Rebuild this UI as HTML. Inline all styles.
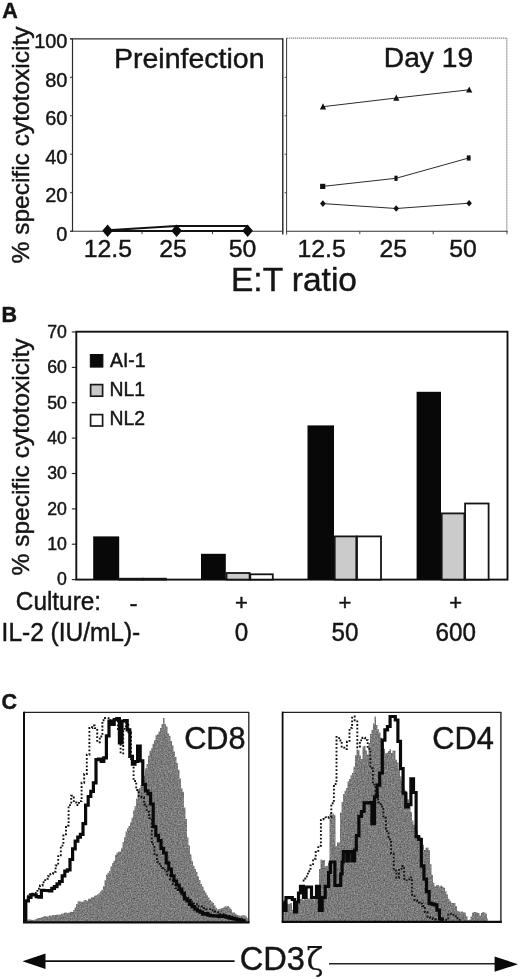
<!DOCTYPE html>
<html lang="en"><head><meta charset="utf-8"><title>Figure</title>
<style>
html,body{margin:0;padding:0;background:#fff;}
body{width:520px;height:979px;overflow:hidden;}
svg{display:block;}
text{font-family:"Liberation Sans",Arial,Helvetica,sans-serif;fill:#151515;stroke:#151515;stroke-width:0.45px;}
.b{font-weight:bold;}
</style></head><body>
<svg width="520" height="979" viewBox="0 0 520 979">
<defs><filter id="grain" x="0" y="0" width="100%" height="100%" color-interpolation-filters="sRGB"><feTurbulence type="fractalNoise" baseFrequency="0.7" numOctaves="2" seed="4" result="t"/><feColorMatrix in="t" type="matrix" values="0.45 0 0 0 0.255  0.45 0 0 0 0.255  0.45 0 0 0 0.255  0 0 0 0 1" result="g"/><feComposite in="g" in2="SourceGraphic" operator="in"/></filter></defs>
<rect x="0" y="0" width="520" height="979" fill="#ffffff"/>

<g id="panelA">
<text class="b" x="2.3" y="18.2" font-size="21.5">A</text>
<text transform="translate(28.6,145) rotate(-90)" text-anchor="middle" font-size="24.5">% specific cytotoxicity</text>
<text transform="translate(67.4,240.8) scale(0.95,1)" text-anchor="end" font-size="21">0</text>
<line x1="70" y1="231.2" x2="72.5" y2="231.2" stroke="#333" stroke-width="1"/>
<text transform="translate(67.4,202.3) scale(0.95,1)" text-anchor="end" font-size="21">20</text>
<line x1="70" y1="192.7" x2="72.5" y2="192.7" stroke="#333" stroke-width="1"/>
<text transform="translate(67.4,163.8) scale(0.95,1)" text-anchor="end" font-size="21">40</text>
<line x1="70" y1="154.2" x2="72.5" y2="154.2" stroke="#333" stroke-width="1"/>
<text transform="translate(67.4,125.4) scale(0.95,1)" text-anchor="end" font-size="21">60</text>
<line x1="70" y1="115.8" x2="72.5" y2="115.8" stroke="#333" stroke-width="1"/>
<text transform="translate(67.4,86.9) scale(0.95,1)" text-anchor="end" font-size="21">80</text>
<line x1="70" y1="77.3" x2="72.5" y2="77.3" stroke="#333" stroke-width="1"/>
<text transform="translate(67.4,48.4) scale(0.95,1)" text-anchor="end" font-size="21">100</text>
<line x1="70" y1="38.8" x2="72.5" y2="38.8" stroke="#333" stroke-width="1"/>
<path d="M72.5 38.8 V231.7" stroke="#2a2a2a" stroke-width="1.2" fill="none"/>
<path d="M70 38.8 H283" stroke="#2a2a2a" stroke-width="1.3" fill="none"/>
<path d="M282.8 38.3 V234.5" stroke="#222" stroke-width="1.4" fill="none"/>
<path d="M70 231.2 H282" stroke="#333" stroke-width="1.1" fill="none"/>
<line x1="142" y1="231.2" x2="142" y2="234.2" stroke="#444" stroke-width="1"/>
<line x1="212.5" y1="231.2" x2="212.5" y2="234.2" stroke="#444" stroke-width="1"/>
<polyline points="107.5,230.3 176.5,226 247.5,226" fill="none" stroke="#111" stroke-width="1.9"/>
<polyline points="107.5,230.9 176.5,230.9 247.5,230.9" fill="none" stroke="#111" stroke-width="2"/>
<path d="M102.3 230.7 L107.6 224.5 L112.89999999999999 230.7 L107.6 237 Z" fill="#0c0c0c"/>
<path d="M171.29999999999998 230.7 L176.6 224.5 L181.9 230.7 L176.6 237 Z" fill="#0c0c0c"/>
<path d="M242.29999999999998 230.7 L247.6 224.5 L252.9 230.7 L247.6 237 Z" fill="#0c0c0c"/>
<text x="114" y="68.2" font-size="28.5">Preinfection</text>
<path d="M286.6 38 V234.5" stroke="#3a3a3a" stroke-width="1.0" fill="none"/>
<path d="M287 38.2 H507" stroke="#8c8c8c" stroke-width="1.2" stroke-dasharray="1.3 0.7" fill="none"/>
<path d="M506.8 38.2 V231.2" stroke="#808080" stroke-width="1.2" stroke-dasharray="1.3 0.7" fill="none"/>
<path d="M286 231.2 H507.5" stroke="#333" stroke-width="1.1" fill="none"/>
<line x1="359.8" y1="231.2" x2="359.8" y2="234.2" stroke="#444" stroke-width="1"/>
<line x1="433.2" y1="231.2" x2="433.2" y2="234.2" stroke="#444" stroke-width="1"/>
<line x1="507" y1="231.2" x2="507" y2="234.2" stroke="#444" stroke-width="1"/>
<line x1="284.6" y1="192.7" x2="286.6" y2="192.7" stroke="#444" stroke-width="1"/>
<line x1="284.6" y1="154.2" x2="286.6" y2="154.2" stroke="#444" stroke-width="1"/>
<line x1="284.6" y1="115.8" x2="286.6" y2="115.8" stroke="#444" stroke-width="1"/>
<line x1="284.6" y1="77.3" x2="286.6" y2="77.3" stroke="#444" stroke-width="1"/>
<polyline points="323.0,106.7 396.3,98.0 469.2,89.8" fill="none" stroke="#2c2c2c" stroke-width="1"/>
<polyline points="322.7,186.4 396.0,178.3 468.7,158.0" fill="none" stroke="#2c2c2c" stroke-width="1"/>
<polyline points="322.9,203.6 396.2,208.5 469.1,203.2" fill="none" stroke="#2c2c2c" stroke-width="1"/>
<path d="M319.9 109.4 L323 103.3 L326.1 109.4 Z" fill="#111"/>
<path d="M393.2 100.7 L396.3 94.6 L399.4 100.7 Z" fill="#111"/>
<path d="M466.1 92.5 L469.2 86.4 L472.3 92.5 Z" fill="#111"/>
<rect x="320.1" y="183.8" width="5.2" height="5.2" fill="#111"/>
<rect x="394.4" y="175.7" width="3.2" height="5.2" fill="#111"/>
<rect x="466.8" y="155.4" width="3.8" height="5.2" fill="#111"/>
<path d="M320.1 203.6 L322.9 200.3 L325.7 203.6 L322.9 206.9 Z" fill="#111"/>
<path d="M393.4 208.5 L396.2 205.2 L399.0 208.5 L396.2 211.8 Z" fill="#111"/>
<path d="M466.3 203.2 L469.1 199.9 L471.9 203.2 L469.1 206.5 Z" fill="#111"/>
<text x="383.8" y="67.2" font-size="28.2">Day 19</text>
<text x="107.8" y="256.6" text-anchor="middle" font-size="24.8">12.5</text>
<text x="173.1" y="256.6" text-anchor="middle" font-size="24.8">25</text>
<text x="242.6" y="256.6" text-anchor="middle" font-size="24.8">50</text>
<text x="321.6" y="256.6" text-anchor="middle" font-size="24.8">12.5</text>
<text x="393.3" y="256.6" text-anchor="middle" font-size="24.8">25</text>
<text x="463.1" y="256.6" text-anchor="middle" font-size="24.8">50</text>
<text x="231" y="291" font-size="33.5">E:T ratio</text>
</g>
<g id="panelB">
<text class="b" x="1.5" y="321.5" font-size="21.5">B</text>
<text transform="translate(29.1,457) rotate(-90)" text-anchor="middle" font-size="24.5">% specific cytotoxicity</text>
<text x="66.9" y="585.4" text-anchor="end" font-size="17.7">0</text>
<line x1="71.8" y1="579.6" x2="76" y2="579.6" stroke="#222" stroke-width="1.1"/>
<text x="66.9" y="550.0" text-anchor="end" font-size="17.7">10</text>
<line x1="71.8" y1="544.2" x2="76" y2="544.2" stroke="#222" stroke-width="1.1"/>
<text x="66.9" y="514.7" text-anchor="end" font-size="17.7">20</text>
<line x1="71.8" y1="508.9" x2="76" y2="508.9" stroke="#222" stroke-width="1.1"/>
<text x="66.9" y="479.3" text-anchor="end" font-size="17.7">30</text>
<line x1="71.8" y1="473.5" x2="76" y2="473.5" stroke="#222" stroke-width="1.1"/>
<text x="66.9" y="443.9" text-anchor="end" font-size="17.7">40</text>
<line x1="71.8" y1="438.1" x2="76" y2="438.1" stroke="#222" stroke-width="1.1"/>
<text x="66.9" y="408.5" text-anchor="end" font-size="17.7">50</text>
<line x1="71.8" y1="402.7" x2="76" y2="402.7" stroke="#222" stroke-width="1.1"/>
<text x="66.9" y="373.2" text-anchor="end" font-size="17.7">60</text>
<line x1="71.8" y1="367.4" x2="76" y2="367.4" stroke="#222" stroke-width="1.1"/>
<text x="66.9" y="337.8" text-anchor="end" font-size="17.7">70</text>
<line x1="71.8" y1="332.0" x2="76" y2="332.0" stroke="#222" stroke-width="1.1"/>
<rect x="76.3" y="331.7" width="431.2" height="247.9" fill="none" stroke="#111" stroke-width="1.9"/>
<rect x="90.3" y="354.5" width="12.6" height="12.6" fill="#0a0a0a" stroke="#0a0a0a" stroke-width="1"/>
<rect x="90.6" y="384.6" width="12" height="11.6" fill="#c9c9c9" stroke="#1a1a1a" stroke-width="1.7"/>
<rect x="90.6" y="414.6" width="12" height="11.4" fill="#fff" stroke="#1a1a1a" stroke-width="1.7"/>
<text x="110" y="366.9" font-size="19.4">AI-1</text>
<text x="109.5" y="395.8" font-size="19.4">NL1</text>
<text x="109.5" y="425.3" font-size="19.4">NL2</text>
<rect x="93.2" y="536.4" width="26.0" height="43.2" fill="#080808"/>
<rect x="119.5" y="578.7" width="23.0" height="0.9" fill="#cbcbcb" stroke="#151515" stroke-width="1.8"/>
<rect x="143.2" y="578.7" width="22.8" height="0.9" fill="#ffffff" stroke="#151515" stroke-width="1.8"/>
<rect x="201" y="553.8" width="24.8" height="25.8" fill="#080808"/>
<rect x="226.5" y="573.0" width="23.1" height="6.6" fill="#cbcbcb" stroke="#151515" stroke-width="1.8"/>
<rect x="250.3" y="574.3" width="22.5" height="5.3" fill="#ffffff" stroke="#151515" stroke-width="1.8"/>
<rect x="307.5" y="425.4" width="26.5" height="154.2" fill="#080808"/>
<rect x="334.7" y="536.4" width="21.6" height="43.2" fill="#cbcbcb" stroke="#151515" stroke-width="1.8"/>
<rect x="357.0" y="536.4" width="24.0" height="43.2" fill="#ffffff" stroke="#151515" stroke-width="1.8"/>
<rect x="416.6" y="391.8" width="24.4" height="187.8" fill="#080808"/>
<rect x="441.7" y="513.4" width="22.7" height="66.2" fill="#cbcbcb" stroke="#151515" stroke-width="1.8"/>
<rect x="465.1" y="503.5" width="23.5" height="76.1" fill="#ffffff" stroke="#151515" stroke-width="1.8"/>
<text transform="translate(15.8,610) scale(0.975,1)" font-size="25">Culture:</text>
<text transform="translate(1.6,641.1) scale(0.968,1)" font-size="25.3">IL-2 (IU/mL)-</text>
<text x="133.6" y="610.5" font-size="24.5" text-anchor="middle">-</text>
<text x="241.5" y="610.3" font-size="22" text-anchor="middle">+</text>
<text transform="translate(241.5,640.6) scale(0.97,1)" font-size="25" text-anchor="middle">0</text>
<text x="345" y="610.3" font-size="22" text-anchor="middle">+</text>
<text transform="translate(345,640.6) scale(0.97,1)" font-size="25" text-anchor="middle">50</text>
<text x="455.8" y="610.3" font-size="22" text-anchor="middle">+</text>
<text transform="translate(455.8,640.6) scale(0.97,1)" font-size="25" text-anchor="middle">600</text>
</g>
<g id="panelC">
<text class="b" x="1.5" y="709" font-size="21.5">C</text>
<polygon points="25.0,922.0 28.0,919.4 29.5,919.4 29.5,919.4 31.0,919.4 31.0,919.8 32.5,919.8 32.5,920.1 34.0,920.1 34.0,919.7 35.5,919.7 35.5,919.1 37.0,919.1 37.0,918.2 38.5,918.2 38.5,917.9 40.0,917.9 40.0,917.7 41.5,917.7 41.5,917.1 43.0,917.1 43.0,916.6 44.5,916.6 44.5,915.9 46.0,915.9 46.0,916.5 47.5,916.5 47.5,916.3 49.0,916.3 49.0,915.6 50.5,915.6 50.5,915.8 52.0,915.8 52.0,915.1 53.5,915.1 53.5,915.1 55.0,915.1 55.0,915.0 56.5,915.0 56.5,914.5 58.0,914.5 58.0,914.8 59.5,914.8 59.5,914.5 61.0,914.5 61.0,913.7 62.5,913.7 62.5,913.4 64.0,913.4 64.0,912.8 65.5,912.8 65.5,912.5 67.0,912.5 67.0,913.0 68.5,913.0 68.5,912.6 70.0,912.6 70.0,911.8 71.5,911.8 71.5,912.1 73.0,912.1 73.0,910.2 74.5,910.2 74.5,907.5 76.0,907.5 76.0,904.0 77.5,904.0 77.5,901.6 79.0,901.6 79.0,901.3 80.5,901.3 80.5,901.8 82.0,901.8 82.0,901.7 83.5,901.7 83.5,900.5 85.0,900.5 85.0,900.1 86.5,900.1 86.5,900.8 88.0,900.8 88.0,898.8 89.5,898.8 89.5,898.5 91.0,898.5 91.0,897.2 92.5,897.2 92.5,896.9 94.0,896.9 94.0,895.7 95.5,895.7 95.5,895.2 97.0,895.2 97.0,894.6 98.5,894.6 98.5,893.3 100.0,893.3 100.0,891.6 101.5,891.6 101.5,889.7 103.0,889.7 103.0,886.3 104.5,886.3 104.5,880.3 106.0,880.3 106.0,874.7 107.5,874.7 107.5,872.8 109.0,872.8 109.0,870.9 110.5,870.9 110.5,866.5 112.0,866.5 112.0,863.2 113.5,863.2 113.5,860.8 115.0,860.8 115.0,855.1 116.5,855.1 116.5,852.5 118.0,852.5 118.0,851.8 119.5,851.8 119.5,851.6 121.0,851.6 121.0,848.3 122.5,848.3 122.5,841.9 124.0,841.9 124.0,837.2 125.5,837.2 125.5,831.4 127.0,831.4 127.0,828.3 128.5,828.3 128.5,826.0 130.0,826.0 130.0,822.6 131.5,822.6 131.5,817.8 133.0,817.8 133.0,810.5 134.5,810.5 134.5,806.3 136.0,806.3 136.0,798.8 137.5,798.8 137.5,789.0 139.0,789.0 139.0,788.1 140.5,788.1 140.5,785.0 142.0,785.0 142.0,783.4 143.5,783.4 143.5,775.7 145.0,775.7 145.0,768.5 146.5,768.5 146.5,764.1 148.0,764.1 148.0,755.7 149.5,755.7 149.5,750.7 151.0,750.7 151.0,748.2 152.5,748.2 152.5,743.7 154.0,743.7 154.0,740.2 155.5,740.2 155.5,735.2 157.0,735.2 157.0,734.3 158.5,734.3 158.5,731.5 160.0,731.5 160.0,728.1 161.5,728.1 161.5,723.9 163.0,723.9 163.0,717.9 164.5,717.9 164.5,724.2 166.0,724.2 166.0,726.6 167.5,726.6 167.5,733.5 169.0,733.5 169.0,735.7 170.5,735.7 170.5,741.1 172.0,741.1 172.0,745.5 173.5,745.5 173.5,751.6 175.0,751.6 175.0,756.9 176.5,756.9 176.5,763.1 178.0,763.1 178.0,769.7 179.5,769.7 179.5,778.4 181.0,778.4 181.0,788.2 182.5,788.2 182.5,791.7 184.0,791.7 184.0,807.5 185.5,807.5 185.5,819.0 187.0,819.0 187.0,837.6 188.5,837.6 188.5,845.4 190.0,845.4 190.0,854.6 191.5,854.6 191.5,860.7 193.0,860.7 193.0,865.8 194.5,865.8 194.5,869.1 196.0,869.1 196.0,872.1 197.5,872.1 197.5,876.6 199.0,876.6 199.0,880.1 200.5,880.1 200.5,884.1 202.0,884.1 202.0,886.6 203.5,886.6 203.5,890.4 205.0,890.4 205.0,892.5 206.5,892.5 206.5,895.3 208.0,895.3 208.0,897.6 209.5,897.6 209.5,900.1 211.0,900.1 211.0,901.6 212.5,901.6 212.5,903.1 214.0,903.1 214.0,905.3 215.5,905.3 215.5,907.7 217.0,907.7 217.0,909.5 218.5,909.5 218.5,908.9 220.0,908.9 220.0,908.7 221.5,908.7 221.5,907.9 223.0,907.9 223.0,907.5 224.5,907.5 224.5,906.2 226.0,906.2 226.0,906.5 227.5,906.5 227.5,906.0 229.0,906.0 229.0,907.5 230.5,907.5 230.5,909.3 232.0,909.3 232.0,912.5 233.5,912.5 233.5,912.6 235.0,912.6 235.0,913.7 236.5,913.7 236.5,915.1 238.0,915.1 238.0,915.5 239.5,915.5 239.5,915.8 241.0,915.8 241.0,915.4 242.5,915.4 242.5,915.1 244.0,915.1 244.0,915.6 245.5,915.6 245.5,916.4 247.0,916.4 247.0,918.1 248.5,918.1 248.5,922.0" fill="#858585" filter="url(#grain)"/>
<polyline points="27.0,896.2 29.6,896.2 29.6,894.7 32.2,894.7 32.2,893.8 34.8,893.8 34.8,892.9 37.4,892.9 37.4,888.7 40.0,888.7 40.0,885.5 42.6,885.5 42.6,882.3 45.2,882.3 45.2,878.8 47.8,878.8 47.8,876.2 50.4,876.2 50.4,873.9 53.0,873.9 53.0,871.7 55.6,871.7 55.6,865.5 58.2,865.5 58.2,855.2 60.8,855.2 60.8,845.6 63.4,845.6 63.4,834.3 66.0,834.3 66.0,825.5 68.6,825.5 68.6,805.1 71.2,805.1 71.2,795.8 73.8,795.8 73.8,802.5 76.4,802.5 76.4,805.0 79.0,805.0 79.0,801.1 81.6,801.1 81.6,782.7 84.2,782.7 84.2,774.0 86.8,774.0 86.8,754.8 89.4,754.8 89.4,728.0 92.0,728.0 92.0,725.5 94.6,725.5 94.6,728.1 97.2,728.1 97.2,742.2 99.8,742.2 99.8,736.5 102.4,736.5 102.4,720.3 105.0,720.3 105.0,718.0 107.6,718.0 107.6,718.1 110.2,718.1 110.2,720.4 112.8,720.4 112.8,720.8 115.4,720.8 115.4,718.0 118.0,718.0 118.0,731.3 120.6,731.3 120.6,753.4 123.2,753.4 123.2,728.9 125.8,728.9 125.8,723.2 128.4,723.2 128.4,732.4 131.0,732.4 131.0,761.8 133.6,761.8 133.6,781.0 136.2,781.0 136.2,790.0 138.8,790.0 138.8,796.1 141.4,796.1 141.4,797.2 144.0,797.2 144.0,804.5 146.6,804.5 146.6,811.8 149.2,811.8 149.2,818.1 151.8,818.1 151.8,844.4 154.4,844.4 154.4,855.2 157.0,855.2 157.0,861.9 159.6,861.9 159.6,866.1 162.2,866.1 162.2,868.0 164.8,868.0 164.8,871.5 167.4,871.5 167.4,875.0 170.0,875.0 170.0,879.3 172.6,879.3 172.6,885.0 175.2,885.0 175.2,888.1 177.8,888.1 177.8,891.6 180.4,891.6 180.4,893.1 183.0,893.1 183.0,895.3 185.6,895.3 185.6,897.7 188.2,897.7 188.2,899.9 190.8,899.9 190.8,901.7 193.4,901.7 193.4,903.4 196.0,903.4 196.0,904.1 198.6,904.1 198.6,906.1 201.2,906.1 201.2,906.5 203.8,906.5 203.8,908.1 206.4,908.1 206.4,909.3 209.0,909.3 209.0,909.1 211.6,909.1 211.6,910.3 214.2,910.3 214.2,911.5 216.8,911.5 216.8,912.3 219.4,912.3 219.4,913.9 222.0,913.9 222.0,914.2 224.6,914.2 224.6,915.3 227.2,915.3 227.2,915.9 229.8,915.9 229.8,916.7 232.4,916.7 232.4,917.7 235.0,917.7 235.0,918.2 236.0,918.2" fill="none" stroke="#111" stroke-width="1.9" stroke-dasharray="1.8 1.9"/>
<polyline points="25.8,921.5 25.8,903.0 25.8,900.9 28.4,900.9 28.4,897.4 31.0,897.4 31.0,894.8 33.6,894.8 33.6,894.9 36.2,894.9 36.2,896.7 38.8,896.7 38.8,897.2 41.4,897.2 41.4,890.4 44.0,890.4 44.0,890.5 46.6,890.5 46.6,890.5 49.2,890.5 49.2,890.9 51.8,890.9 51.8,888.3 54.4,888.3 54.4,886.6 57.0,886.6 57.0,883.9 59.6,883.9 59.6,881.5 62.2,881.5 62.2,875.8 64.8,875.8 64.8,871.2 67.4,871.2 67.4,869.8 70.0,869.8 70.0,859.5 72.6,859.5 72.6,848.8 75.2,848.8 75.2,841.1 77.8,841.1 77.8,837.1 80.4,837.1 80.4,834.3 83.0,834.3 83.0,823.7 85.6,823.7 85.6,805.1 88.2,805.1 88.2,796.5 90.8,796.5 90.8,791.3 93.4,791.3 93.4,782.8 96.0,782.8 96.0,759.6 98.6,759.6 98.6,759.2 101.2,759.2 101.2,761.4 103.8,761.4 103.8,757.9 106.4,757.9 106.4,735.8 109.0,735.8 109.0,721.2 111.6,721.2 111.6,724.5 114.2,724.5 114.2,719.7 116.8,719.7 116.8,718.6 119.4,718.6 119.4,743.0 122.0,743.0 122.0,721.0 124.6,721.0 124.6,720.5 127.2,720.5 127.2,729.9 129.8,729.9 129.8,756.4 132.4,756.4 132.4,764.1 135.0,764.1 135.0,761.5 137.6,761.5 137.6,746.0 140.2,746.0 140.2,760.8 142.8,760.8 142.8,784.4 145.4,784.4 145.4,790.8 148.0,790.8 148.0,793.7 150.6,793.7 150.6,804.0 153.2,804.0 153.2,826.5 155.8,826.5 155.8,835.4 158.4,835.4 158.4,840.6 161.0,840.6 161.0,848.4 163.6,848.4 163.6,853.0 166.2,853.0 166.2,862.8 168.8,862.8 168.8,869.2 171.4,869.2 171.4,875.8 174.0,875.8 174.0,881.0 176.6,881.0 176.6,885.0 179.2,885.0 179.2,889.1 181.8,889.1 181.8,893.1 184.4,893.1 184.4,898.8 187.0,898.8 187.0,901.0 189.6,901.0 189.6,904.5 192.2,904.5 192.2,906.7 194.8,906.7 194.8,909.2 197.4,909.2 197.4,910.8 200.0,910.8 200.0,912.2 202.6,912.2 202.6,914.2 205.2,914.2 205.2,913.7 207.8,913.7 207.8,915.2 210.4,915.2 210.4,915.7 213.0,915.7 213.0,916.0 215.6,916.0 215.6,915.9 218.2,915.9 218.2,916.4 220.8,916.4 220.8,915.9 223.4,915.9 223.4,916.5 226.0,916.5 226.0,917.2 228.6,917.2 228.6,917.8 231.2,917.8 231.2,918.3 233.8,918.3 233.8,918.9 236.4,918.9 236.4,919.7 239.0,919.7 239.0,919.9 241.6,919.9 241.6,920.9 244.2,920.9 244.2,921.0 245.4,921.0" fill="none" stroke="#0a0a0a" stroke-width="3.2" stroke-linejoin="miter"/>
<path d="M24 712.3 H249" stroke="#222" stroke-width="1.2" fill="none"/>
<path d="M248.8 712 V923" stroke="#222" stroke-width="1.3" fill="none"/>
<path d="M24 711.7 V923" stroke="#0c0c0c" stroke-width="2" fill="none"/>
<path d="M23 922.3 H249.5" stroke="#0c0c0c" stroke-width="2.2" fill="none"/>
<text x="184.2" y="749.4" font-size="30.7">CD8</text>
<polygon points="283.0,922.0 283.0,911.3 284.5,911.3 284.5,910.7 286.0,910.7 286.0,903.5 287.5,903.5 287.5,903.7 289.0,903.7 289.0,903.7 290.5,903.7 290.5,902.9 292.0,902.9 292.0,909.8 293.5,909.8 293.5,911.2 295.0,911.2 295.0,910.8 296.5,910.8 296.5,907.4 298.0,907.4 298.0,898.7 299.5,898.7 299.5,899.0 301.0,899.0 301.0,898.5 302.5,898.5 302.5,899.8 304.0,899.8 304.0,898.9 305.5,898.9 305.5,899.4 307.0,899.4 307.0,898.6 308.5,898.6 308.5,898.7 310.0,898.7 310.0,898.0 311.5,898.0 311.5,898.5 313.0,898.5 313.0,899.5 314.5,899.5 314.5,898.1 316.0,898.1 316.0,898.2 317.5,898.2 317.5,888.8 319.0,888.8 319.0,869.0 320.5,869.0 320.5,859.6 322.0,859.6 322.0,860.3 323.5,860.3 323.5,860.1 325.0,860.1 325.0,866.3 326.5,866.3 326.5,865.7 328.0,865.7 328.0,862.8 329.5,862.8 329.5,814.1 331.0,814.1 331.0,814.5 332.5,814.5 332.5,813.8 334.0,813.8 334.0,815.3 335.5,815.3 335.5,846.2 337.0,846.2 337.0,842.4 338.5,842.4 338.5,842.5 340.0,842.5 340.0,812.4 341.5,812.4 341.5,802.0 343.0,802.0 343.0,794.1 344.5,794.1 344.5,790.8 346.0,790.8 346.0,788.0 347.5,788.0 347.5,781.3 349.0,781.3 349.0,779.0 350.5,779.0 350.5,775.2 352.0,775.2 352.0,772.9 353.5,772.9 353.5,766.4 355.0,766.4 355.0,755.2 356.5,755.2 356.5,749.5 358.0,749.5 358.0,750.3 359.5,750.3 359.5,755.4 361.0,755.4 361.0,759.0 362.5,759.0 362.5,746.6 364.0,746.6 364.0,746.0 365.5,746.0 365.5,750.6 367.0,750.6 367.0,754.6 368.5,754.6 368.5,742.9 370.0,742.9 370.0,733.9 371.5,733.9 371.5,729.7 373.0,729.7 373.0,723.5 374.5,723.5 374.5,716.5 376.0,716.5 376.0,725.0 377.5,725.0 377.5,729.2 379.0,729.2 379.0,732.5 380.5,732.5 380.5,737.7 382.0,737.7 382.0,744.1 383.5,744.1 383.5,748.7 385.0,748.7 385.0,753.2 386.5,753.2 386.5,752.8 388.0,752.8 388.0,751.0 389.5,751.0 389.5,749.1 391.0,749.1 391.0,752.9 392.5,752.9 392.5,750.4 394.0,750.4 394.0,750.7 395.5,750.7 395.5,759.8 397.0,759.8 397.0,762.5 398.5,762.5 398.5,769.0 400.0,769.0 400.0,776.2 401.5,776.2 401.5,781.1 403.0,781.1 403.0,787.8 404.5,787.8 404.5,790.4 406.0,790.4 406.0,792.6 407.5,792.6 407.5,799.3 409.0,799.3 409.0,804.6 410.5,804.6 410.5,812.0 412.0,812.0 412.0,820.5 413.5,820.5 413.5,824.8 415.0,824.8 415.0,831.0 416.5,831.0 416.5,830.8 418.0,830.8 418.0,835.6 419.5,835.6 419.5,837.4 421.0,837.4 421.0,839.4 422.5,839.4 422.5,844.7 424.0,844.7 424.0,850.1 425.5,850.1 425.5,847.8 427.0,847.8 427.0,847.4 428.5,847.4 428.5,850.2 430.0,850.2 430.0,864.2 431.5,864.2 431.5,874.9 433.0,874.9 433.0,882.7 434.5,882.7 434.5,886.2 436.0,886.2 436.0,884.9 437.5,884.9 437.5,885.0 439.0,885.0 439.0,886.6 440.5,886.6 440.5,885.5 442.0,885.5 442.0,886.7 443.5,886.7 443.5,887.7 445.0,887.7 445.0,891.3 446.5,891.3 446.5,894.6 448.0,894.6 448.0,898.8 449.5,898.8 449.5,900.9 451.0,900.9 451.0,902.7 452.5,902.7 452.5,902.9 454.0,902.9 454.0,903.0 455.5,903.0 455.5,906.2 457.0,906.2 457.0,910.7 458.5,910.7 458.5,911.5 460.0,911.5 460.0,911.8 461.5,911.8 461.5,911.5 463.0,911.5 463.0,912.2 464.5,912.2 464.5,912.8 466.0,912.8 466.0,916.2 467.5,916.2 467.5,919.9 469.0,919.9 469.0,919.8 470.5,919.8 470.5,916.5 472.0,916.5 472.0,912.8 473.5,912.8 473.5,911.9 475.0,911.9 475.0,912.0 476.5,912.0 476.5,912.8 478.0,912.8 478.0,913.1 479.5,913.1 479.5,915.5 481.0,915.5 481.0,913.0 482.5,913.0 482.5,912.0 484.0,912.0 484.0,912.5 485.5,912.5 485.5,913.7 487.0,913.7 487.0,918.2 487.5,918.2 488.0,922.0" fill="#858585" filter="url(#grain)"/>
<polyline points="302.7,880.5 305.3,880.5 305.3,876.4 307.9,876.4 307.9,871.3 310.5,871.3 310.5,865.4 313.1,865.4 313.1,858.7 315.7,858.7 315.7,852.0 318.3,852.0 318.3,845.8 320.9,845.8 320.9,819.2 323.5,819.2 323.5,817.4 326.1,817.4 326.1,817.9 328.7,817.9 328.7,817.0 331.3,817.0 331.3,803.3 333.9,803.3 333.9,784.0 336.5,784.0 336.5,736.9 339.1,736.9 339.1,740.5 341.7,740.5 341.7,747.7 344.3,747.7 344.3,749.1 346.9,749.1 346.9,741.8 349.5,741.8 349.5,727.9 352.1,727.9 352.1,716.5 354.7,716.5 354.7,720.2 357.3,720.2 357.3,747.4 359.9,747.4 359.9,740.4 362.5,740.4 362.5,737.6 365.1,737.6 365.1,740.1 367.7,740.1 367.7,748.9 370.3,748.9 370.3,768.3 372.9,768.3 372.9,784.6 375.5,784.6 375.5,794.2 378.1,794.2 378.1,802.3 380.7,802.3 380.7,806.5 383.3,806.5 383.3,817.8 385.9,817.8 385.9,831.1 388.5,831.1 388.5,839.3 391.1,839.3 391.1,853.7 393.7,853.7 393.7,870.6 396.3,870.6 396.3,877.8 398.9,877.8 398.9,868.9 401.5,868.9 401.5,866.0 404.1,866.0 404.1,878.8 406.7,878.8 406.7,880.4 409.3,880.4 409.3,877.4 411.9,877.4 411.9,894.8 414.5,894.8 414.5,900.2 417.1,900.2 417.1,902.8 419.7,902.8 419.7,903.6 422.3,903.6 422.3,906.0 424.9,906.0 424.9,912.0 427.5,912.0 427.5,916.9 430.1,916.9 430.1,917.8 432.7,917.8 432.7,919.1 435.3,919.1 435.3,919.3 437.9,919.3 437.9,919.4 440.5,919.4 440.5,919.4 443.1,919.4 443.1,919.6 445.7,919.6 445.7,919.9 448.3,919.9 448.3,913.6 450.9,913.6 450.9,914.7 453.5,914.7 453.5,916.4 456.1,916.4 456.1,918.3 458.7,918.3 458.7,919.7 460.5,919.7" fill="none" stroke="#111" stroke-width="1.9" stroke-dasharray="1.8 1.9"/>
<polyline points="283.3,902.0 284.5,902.0 284.5,910.5 286.0,910.5 286.0,897.6 292.3,897.6 292.3,899.5 294.6,899.5 294.6,912.0 296.6,912.0 296.6,902.0 298.5,902.0 298.5,893.0 300.5,893.0 300.5,886.3 303.5,886.3 303.5,897.5 306.1,897.5 306.1,887.0 311.5,887.0 311.5,897.5 316.5,897.5 316.5,886.3 319.4,886.3 319.4,910.5 322.2,910.5 322.2,897.6 325.2,897.6 325.2,886.3 328.6,886.3 328.6,872.5 330.4,872.5 330.4,862.0 334.9,862.0 334.9,885.5 340.7,885.5 340.7,874.0 342.1,874.0 342.1,862.0 343.3,862.0 343.3,851.7 346.8,851.7 346.8,861.0 348.5,861.0 348.5,851.7 352.0,851.7 352.0,861.0 354.6,861.0 354.6,850.0 356.3,850.0 356.3,835.7 358.9,835.7 358.9,816.4 361.5,816.4 361.5,811.5 364.1,811.5 364.1,802.9 366.7,802.9 366.7,802.8 369.3,802.8 369.3,802.7 371.9,802.7 371.9,823.7 374.5,823.7 374.5,796.8 377.1,796.8 377.1,785.2 379.7,785.2 379.7,773.0 382.3,773.0 382.3,740.2 384.9,740.2 384.9,729.8 387.5,729.8 387.5,726.5 390.1,726.5 390.1,716.5 392.7,716.5 392.7,716.5 395.3,716.5 395.3,720.0 397.9,720.0 397.9,741.3 400.5,741.3 400.5,768.7 403.1,768.7 403.1,793.2 405.7,793.2 405.7,806.8 408.3,806.8 408.3,804.7 410.9,804.7 410.9,778.9 413.5,778.9 413.5,792.5 416.1,792.5 416.1,836.7 418.7,836.7 418.7,839.4 421.3,839.4 421.3,865.8 423.9,865.8 423.9,879.1 426.5,879.1 426.5,891.6 429.1,891.6 429.1,903.3 431.7,903.3 431.7,904.1 434.3,904.1 434.3,904.8 436.9,904.8 436.9,910.1 439.5,910.1 439.5,918.9 442.1,918.9 442.1,920.8 443.4,920.8" fill="none" stroke="#0a0a0a" stroke-width="3.2" stroke-linejoin="miter"/>
<path d="M282 712.3 H501.2" stroke="#222" stroke-width="1.2" fill="none"/>
<path d="M500.9 712 V922.5" stroke="#222" stroke-width="1.4" fill="none"/>
<path d="M282.6 711.7 V922.5" stroke="#0c0c0c" stroke-width="1.8" fill="none"/>
<path d="M281.7 921.8 H501.8" stroke="#0c0c0c" stroke-width="2.2" fill="none"/>
<text x="432.3" y="748.9" font-size="30.8">CD4</text>
<path d="M44 961.1 H234.6" stroke="#111" stroke-width="1.7" fill="none"/>
<path d="M22.5 961.2 L45.5 953.6 L45.5 968.9 Z" fill="#0a0a0a"/>
<path d="M329 963.7 H496" stroke="#222" stroke-width="1.4" fill="none"/>
<path d="M518 964.2 L494.6 956.6 L494.6 971.8 Z" fill="#0a0a0a"/>
<text x="239.8" y="969.6" font-size="32.6">CD3<tspan font-family="DejaVu Serif,serif" font-size="31" dx="1.5" dy="0.6" stroke-width="0.2">ζ</tspan></text>
</g>
</svg></body></html>
